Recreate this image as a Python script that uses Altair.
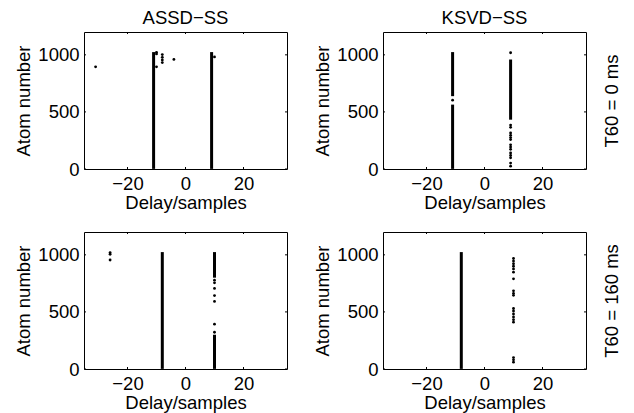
import altair as alt
import pandas as pd

x_ticks = [-20, 0, 20]
y_ticks = [0, 500, 1000]
methods = ["ASSD−SS", "KSVD−SS"]
t60_labels = ["T60 = 0 ms", "T60 = 160 ms"]

# ASSD-SS, T60 = 0 ms : dense columns (delay, first atom, last atom) and isolated atoms
assd0_seg_delay = [-11, 9]
assd0_seg_start = [1, 1]
assd0_seg_end = [1024, 1024]
assd0_pt_delay = [-31, -10, -10, -10, -8, -8, -8, -8, -4, 10]
assd0_pt_atom = [895, 1022, 1008, 895, 1002, 978, 955, 932, 960, 982]

# KSVD-SS, T60 = 0 ms
ksvd0_seg_delay = [-11, -11, 9]
ksvd0_seg_start = [1, 638, 432]
ksvd0_seg_end = [564, 1024, 959]
ksvd0_pt_delay = [-11, 9, 9, 9, 9, 9, 9, 9, 9, 9, 9, 9, 9, 9, 9, 9]
ksvd0_pt_atom = [603, 1018, 385, 365, 315, 295, 275, 258, 212, 192, 172, 140, 118, 98, 52, 25]

# ASSD-SS, T60 = 160 ms
assd160_seg_delay = [-8, 10, 10]
assd160_seg_start = [1, 800, 1]
assd160_seg_end = [1024, 1024, 300]
assd160_pt_delay = [-26, -26, -26, 10, 10, 10, 10, 10, 10, 10]
assd160_pt_atom = [1020, 1005, 955, 778, 755, 706, 643, 592, 393, 322]

# KSVD-SS, T60 = 160 ms
ksvd160_seg_delay = [-8]
ksvd160_seg_start = [1]
ksvd160_seg_end = [1024]
ksvd160_pt_delay = [10, 10, 10, 10, 10, 10, 10, 10, 10, 10, 10, 10, 10, 10, 10, 10, 10, 10, 10]
ksvd160_pt_atom = [968, 945, 922, 900, 877, 848, 790, 685, 663, 645, 530, 508, 482, 456, 432, 410, 100, 80, 60]

W, H = 203, 137
FONT = "Liberation Sans"
FS = 18.5
TICK = 2

xs = alt.Scale(domain=[-35, 35], nice=False, zero=False)
ys = alt.Scale(domain=[0, 1200], nice=False, zero=False)


def xaxis():
    return alt.Axis(title="Delay/samples", values=x_ticks, grid=False, ticks=False,
                    tickSize=0, domain=False, labelPadding=5, titlePadding=1,
                    labelFlush=False, format="d")


def yaxis():
    return alt.Axis(title="Atom number", values=y_ticks, grid=False, ticks=False,
                    tickSize=0, domain=False, labelPadding=5, titlePadding=4,
                    labelFlush=False, format="d")


def X(f):
    return alt.X(f"{f}:Q", scale=xs, axis=xaxis())


def Y(f):
    return alt.Y(f"{f}:Q", scale=ys, axis=yaxis())


def panel(seg_d, seg_s, seg_e, pt_d, pt_a, title=None, row_label=None):
    seg = pd.DataFrame({"delay": seg_d, "start": seg_s, "end": seg_e})
    pts = pd.DataFrame({"delay": pt_d, "atom": pt_a})
    xt = pd.DataFrame({"t": x_ticks})
    yt = pd.DataFrame({"t": y_ticks})

    segs = alt.Chart(seg).mark_rule(color="black", strokeWidth=3).encode(
        x=X("delay"), y=Y("start"), y2="end:Q")
    dots = alt.Chart(pts).mark_circle(color="black", size=8, opacity=1).encode(
        x=X("delay"), y=Y("atom"))
    tb = alt.Chart(xt).mark_rule(color="black", strokeWidth=1).encode(
        x=X("t"), y=alt.value(H), y2=alt.value(H - TICK))
    tt = alt.Chart(xt).mark_rule(color="black", strokeWidth=1).encode(
        x=X("t"), y=alt.value(0), y2=alt.value(TICK))
    tl = alt.Chart(yt).mark_rule(color="black", strokeWidth=1).encode(
        y=Y("t"), x=alt.value(0), x2=alt.value(TICK))
    tr = alt.Chart(yt).mark_rule(color="black", strokeWidth=1).encode(
        y=Y("t"), x=alt.value(W), x2=alt.value(W - TICK))
    ch = alt.layer(segs, dots, tb, tt, tl, tr)
    if row_label:
        lab = alt.Chart(yt).mark_rule(opacity=0).encode(
            y=alt.Y("t:Q", scale=ys, axis=alt.Axis(
                orient="right", title=row_label, labels=False, ticks=False,
                domain=False, grid=False, titleAngle=270, titleBaseline="top",
                titlePadding=16)))
        ch = alt.layer(ch, lab).resolve_scale(y="independent")
    props = dict(width=W, height=H)
    if title:
        props["title"] = alt.Title(title)
    return ch.properties(**props)


p_tl = panel(assd0_seg_delay, assd0_seg_start, assd0_seg_end, assd0_pt_delay, assd0_pt_atom,
             title=methods[0])
p_tr = panel(ksvd0_seg_delay, ksvd0_seg_start, ksvd0_seg_end, ksvd0_pt_delay, ksvd0_pt_atom,
             title=methods[1], row_label=t60_labels[0])
p_bl = panel(assd160_seg_delay, assd160_seg_start, assd160_seg_end, assd160_pt_delay,
             assd160_pt_atom)
p_br = panel(ksvd160_seg_delay, ksvd160_seg_start, ksvd160_seg_end, ksvd160_pt_delay,
             ksvd160_pt_atom, row_label=t60_labels[1])

chart = alt.vconcat(
    alt.hconcat(p_tl, p_tr, spacing=25),
    alt.hconcat(p_bl, p_br, spacing=25),
    spacing=18,
).configure_view(
    stroke="black", strokeWidth=1
).configure_axis(
    labelFont=FONT, titleFont=FONT, labelFontSize=FS, titleFontSize=FS,
    labelColor="black", titleColor="black", titleFontWeight="normal"
).configure_title(
    font=FONT, fontSize=FS, fontWeight="normal", color="black",
    anchor="middle", frame="group", offset=4
).properties(
    background="white",
    padding={"left": 6, "top": 0, "right": 4, "bottom": 5},
)

chart.save("out.html", embed_options={"renderer": "svg", "actions": False})
